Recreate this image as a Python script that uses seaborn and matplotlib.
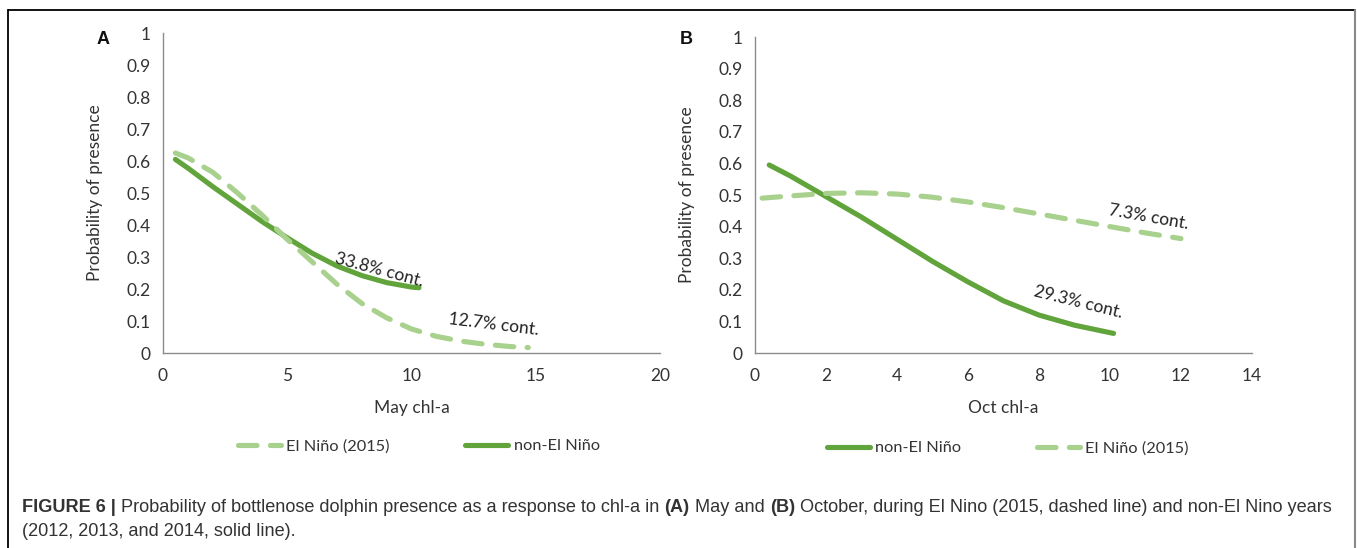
import numpy as np
import pandas as pd
import matplotlib
matplotlib.use("Agg")
import matplotlib.pyplot as plt
from matplotlib.lines import Line2D
from matplotlib.text import Annotation
import seaborn as sns

# ---------------- data ----------------
may_non_x = [0.5, 1, 2, 3, 4, 5, 6, 7, 8, 9, 10, 10.3]
may_non_y = [0.605, 0.578, 0.52, 0.465, 0.41, 0.36, 0.312, 0.272, 0.242, 0.22, 0.206, 0.204]
may_nino_x = [0.5, 1, 2, 3, 4, 5, 6, 7, 8, 9, 10, 11, 12, 13, 14, 14.7]
may_nino_y = [0.625, 0.61, 0.565, 0.5, 0.43, 0.355, 0.285, 0.215, 0.155, 0.11, 0.075, 0.052, 0.037, 0.027, 0.02, 0.017]

oct_non_x = [0.4, 1, 2, 3, 4, 5, 6, 7, 8, 9, 10.1]
oct_non_y = [0.595, 0.56, 0.495, 0.43, 0.36, 0.29, 0.225, 0.165, 0.12, 0.088, 0.062]
oct_nino_x = [0.2, 1, 2, 3, 4, 5, 6, 7, 8, 9, 10, 11, 12]
oct_nino_y = [0.49, 0.497, 0.505, 0.507, 0.503, 0.493, 0.478, 0.46, 0.44, 0.42, 0.4, 0.38, 0.362]

series_nino = "El Niño (2015)"
series_non = "non-El Niño"
yticks = [0, 0.1, 0.2, 0.3, 0.4, 0.5, 0.6, 0.7, 0.8, 0.9, 1]
ytick_labels = ["0", "0.1", "0.2", "0.3", "0.4", "0.5", "0.6", "0.7", "0.8", "0.9", "1"]
may_xticks = [0, 5, 10, 15, 20]
oct_xticks = [0, 2, 4, 6, 8, 10, 12, 14]

# annotations: (text, x, y, rotation)
may_notes = [("33.8% cont.", 8.7, 0.258, -15), ("12.7% cont.", 13.3, 0.09, -7)]
oct_notes = [("7.3% cont.", 11.1, 0.43, -10), ("29.3% cont.", 9.1, 0.16, -14)]

caption_segments = [
    ("FIGURE 6 |", "bold"),
    ("Probability of bottlenose dolphin presence as a response to chl-a in", "normal"),
    ("(A)", "bold"),
    ("May and", "normal"),
    ("(B)", "bold"),
    ("October, during El Nino (2015, dashed line) and non-El Nino years", "normal"),
]
caption_line2 = "(2012, 2013, and 2014, solid line)."

# ---------------- style ----------------
sns.set_style("white")
plt.rcParams["font.family"] = ["Lato", "DejaVu Sans"]

C_SOLID = "#62a43c"
C_DASH = "#a9d18e"
SPINE = "#8c8c8c"
TXT = "#333333"
LW = 3.7
FS = 12.5
LEG_FS = 11.8

W, H = 1357, 548
fig = plt.figure(figsize=(W / 100, H / 100), dpi=100)


def fx(px):
    return px / W


def fy(py):
    return 1 - py / H


def make_df(nx, ny, dx, dy):
    return pd.concat([
        pd.DataFrame({"x": nx, "y": ny, "series": series_non}),
        pd.DataFrame({"x": dx, "y": dy, "series": series_nino}),
    ], ignore_index=True)


def panel(rect, df, xlim, xticks, xlabel, notes, letter, letter_pos):
    ax = fig.add_axes(rect)
    sns.lineplot(data=df, x="x", y="y", hue="series", style="series",
                 palette={series_non: C_SOLID, series_nino: C_DASH},
                 dashes={series_non: "", series_nino: (3.6, 2.6)},
                 linewidth=LW, ax=ax, legend=False, sort=False,
                 solid_capstyle="round", dash_capstyle="round",
                 solid_joinstyle="round", dash_joinstyle="round")
    ax.set_xlim(*xlim)
    ax.set_ylim(0, 1)
    ax.set_xticks(xticks)
    ax.set_xticklabels([str(t) for t in xticks])
    ax.set_yticks(yticks)
    ax.set_yticklabels(ytick_labels)
    for s in ["top", "right"]:
        ax.spines[s].set_visible(False)
    for s in ["left", "bottom"]:
        ax.spines[s].set_color(SPINE)
        ax.spines[s].set_linewidth(1.0)
    ax.tick_params(axis="both", direction="out", length=5, width=1.0,
                   color=SPINE, labelsize=FS, labelcolor=TXT, pad=6)
    ax.tick_params(axis="y", pad=4)
    ax.set_xlabel(xlabel, fontsize=FS, color=TXT)
    ax.set_ylabel("Probability of presence", fontsize=FS, color=TXT)
    ax.xaxis.set_label_coords(0.5, -0.148)
    ax.yaxis.set_label_coords(-0.121, 0.5)
    for t, x, y, r in notes:
        ax.text(x, y, t, rotation=r, ha="center", va="center",
                fontsize=FS, color="#222222", rotation_mode="anchor")
    fig.text(fx(letter_pos[0]), fy(letter_pos[1]), letter, fontsize=13,
             fontweight="bold", ha="center", va="center",
             family=["Liberation Sans", "DejaVu Sans"], color="#111111")
    return ax


axA = panel([fx(163), fy(353), fx(660) - fx(163), fy(33) - fy(353)],
            make_df(may_non_x, may_non_y, may_nino_x, may_nino_y),
            (0, 20), may_xticks, "May chl-a", may_notes, "A", (103, 39))
axB = panel([fx(755), fy(353), fx(1252) - fx(755), fy(37) - fy(353)],
            make_df(oct_non_x, oct_non_y, oct_nino_x, oct_nino_y),
            (0, 14), oct_xticks, "Oct chl-a", oct_notes, "B", (686, 39))

h_dash = Line2D([], [], color=C_DASH, lw=LW, dashes=(3.6, 2.6), dash_capstyle="round")
h_solid = Line2D([], [], color=C_SOLID, lw=LW, solid_capstyle="round")

legA = fig.legend([h_dash, h_solid], [series_nino, series_non], loc="center",
                  bbox_to_anchor=(fx(419), fy(446)), ncol=2, frameon=False,
                  fontsize=LEG_FS, handlelength=2.6, handletextpad=0.35,
                  columnspacing=4.6, labelcolor=TXT)
legB = fig.legend([h_solid, h_dash], [series_non, series_nino], loc="center",
                  bbox_to_anchor=(fx(1008), fy(448)), ncol=2, frameon=False,
                  fontsize=LEG_FS, handlelength=2.6, handletextpad=0.35,
                  columnspacing=4.6, labelcolor=TXT)

# ---------------- caption ----------------
cap_font = ["Liberation Sans", "DejaVu Sans"]
cap_size = 13.1
prev = fig.text(fx(22), fy(507), caption_segments[0][0], fontsize=cap_size,
                fontweight=caption_segments[0][1], family=cap_font,
                color=TXT, ha="left", va="center")
for txt, wt in caption_segments[1:]:
    prev = fig.add_artist(Annotation(
        txt, xy=(1, 0.5), xycoords=prev, xytext=(3.7, 0),
        textcoords="offset points", fontsize=cap_size, fontweight=wt,
        family=cap_font, color=TXT, ha="left", va="center"))
fig.text(fx(22), fy(531), caption_line2, fontsize=cap_size, family=cap_font,
         color=TXT, ha="left", va="center")

# ---------------- frame ----------------
fig.add_artist(Line2D([fx(8), fx(1355)], [fy(10), fy(10)], color="black", lw=1.3))
fig.add_artist(Line2D([fx(8), fx(8)], [fy(10), fy(560)], color="black", lw=1.3))
fig.add_artist(Line2D([fx(1355), fx(1355)], [fy(10), fy(560)], color="#888888", lw=1.5))

fig.savefig("out.png", dpi=100)
